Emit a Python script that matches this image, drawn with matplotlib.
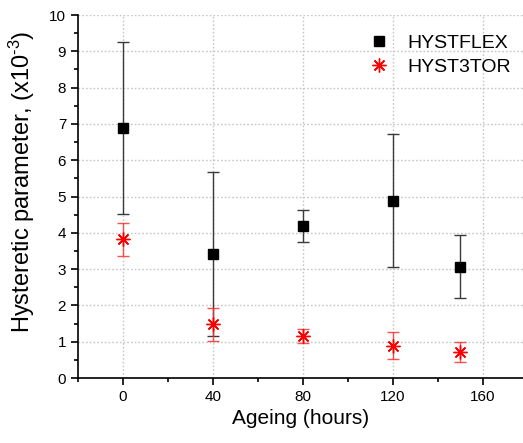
import matplotlib.pyplot as plt
from matplotlib.lines import Line2D
from matplotlib.ticker import MultipleLocator

plt.rcParams['font.family'] = ['Liberation Sans', 'DejaVu Sans']
plt.rcParams['mathtext.fontset'] = 'custom'
plt.rcParams['mathtext.rm'] = 'Liberation Sans'
plt.rcParams['mathtext.it'] = 'Liberation Sans'

# ageing time (hours) and hysteretic parameter (x1e-3) with standard deviations
hours = [0, 40, 80, 120, 150]
flex_mean = [6.89, 3.42, 4.19, 4.89, 3.07]
flex_err = [2.36, 2.25, 0.44, 1.84, 0.86]
tor_mean = [3.82, 1.48, 1.16, 0.89, 0.71]
tor_err = [0.45, 0.46, 0.19, 0.37, 0.27]

fig = plt.figure(figsize=(5.23, 4.43), dpi=100)
ax = fig.add_axes([0.1491, 0.1467, 0.8509, 0.8194])

ax.errorbar(hours, flex_mean, yerr=flex_err, fmt='s', color='black',
            ecolor='#3a3a3a', elinewidth=1.0, capsize=4, capthick=1.0,
            markersize=6.5, zorder=3)
ax.errorbar(hours, tor_mean, yerr=tor_err, fmt='none', ecolor='#ff3030',
            elinewidth=1.0, capsize=4, capthick=1.0, alpha=0.85, zorder=4)
ax.plot(hours, tor_mean, linestyle='none', marker=(8, 2, 0), color='red',
        markeredgewidth=1.0, markersize=10, zorder=5)

ax.set_xlim(-20, 177.8)
ax.set_ylim(0, 10)
ax.xaxis.set_major_locator(MultipleLocator(40))
ax.xaxis.set_minor_locator(MultipleLocator(20))
ax.yaxis.set_major_locator(MultipleLocator(1))
ax.yaxis.set_minor_locator(MultipleLocator(0.5))

for side in ['top', 'right']:
    ax.spines[side].set_visible(False)
for side in ['left', 'bottom']:
    ax.spines[side].set_linewidth(1.2)

ax.tick_params(which='major', direction='out', length=5, width=1.2, labelsize=11)
ax.tick_params(which='minor', direction='out', length=3, width=1.2)

# dotted grid at the major ticks
ax.set_axisbelow(True)
ax.grid(True, which='major', axis='both', linestyle=(0, (1.2, 1.5)),
        color='#c6c6c6', linewidth=1.0)
for tick in ax.yaxis.get_major_ticks():
    if tick.get_loc() >= 10:
        tick.gridline.set_visible(False)

ax.set_xlabel('Ageing (hours)', fontsize=15, labelpad=4)
ax.set_ylabel(r'Hysteretic parameter, (x10$^{\text{-3}}$)', fontsize=17)
ax.yaxis.set_label_coords(-0.092, 0.54)

handles = [
    Line2D([], [], linestyle='none', marker='s', color='black', markersize=6.5),
    Line2D([], [], linestyle='none', marker=(8, 2, 0), color='red',
           markeredgewidth=1.0, markersize=10),
]
ax.legend(handles, ['HYSTFLEX', 'HYST3TOR'], loc='upper right',
          bbox_to_anchor=(1.0, 0.978), frameon=False, fontsize=14,
          handlelength=1.0, handletextpad=1.0, labelspacing=0.3,
          borderaxespad=0.2)

fig.savefig('out.png', dpi=100)
